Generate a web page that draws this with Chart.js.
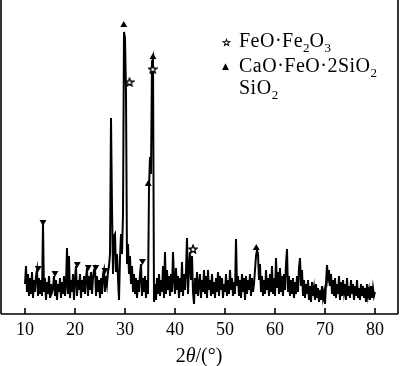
<!DOCTYPE html>
<html>
<head>
<meta charset="utf-8">
<script src="https://cdn.jsdelivr.net/npm/chart.js@4.4.1/dist/chart.umd.min.js"></script>
<style>
  html, body { margin: 0; padding: 0; background: #fff; }
  #wrap { position: relative; width: 400px; height: 366px; font-family: 'Liberation Serif', 'Times New Roman', serif; color: #000; }
  canvas { display: block; }
  .lg { position: absolute; left: 239px; font-size: 20px; line-height: 20px; letter-spacing: 0.5px; white-space: nowrap; }
  .sym { position: absolute; font-family: 'DejaVu Sans', sans-serif; line-height: 10px; }
  sub { font-size: 13px; vertical-align: -5px; line-height: 0; letter-spacing: 0; }
  .xt { position: absolute; left: 0; width: 398px; top: 345px; text-align: center; font-size: 20px; line-height: 20px; }
</style>
</head>
<body>
<div id="wrap">
  <canvas id="xrd" width="400" height="366"></canvas>
  <div class="sym" style="left:222px;top:38px;font-size:10px;-webkit-text-stroke:0.6px #000;">☆</div>
  <div class="lg" style="top:30px;">FeO·Fe<sub>2</sub>O<sub>3</sub></div>
  <div class="sym" style="left:222px;top:61px;font-size:9px;">▲</div>
  <div class="lg" style="top:55px;">CaO·FeO·2SiO<sub>2</sub></div>
  <div class="lg" style="top:77px;">SiO<sub>2</sub></div>
  <div class="xt">2<i>θ</i>/(°)</div>
</div>
<script>
// 2θ axis: 10° to 80°, 0.2° step
const startAngle = 10;
const stepAngle = 0.2;

// intensity (arbitrary units), five readings per degree
const intensity = [
  30, 48, 22, 40, 18,   // 10
  36, 20, 42, 16, 34,
  22, 38, 44, 18, 36,
  20, 34, 18, 90, 22,
  36, 14, 32, 20, 38,
  16, 30, 22, 26, 38,   // 15
  18, 34, 14, 30, 22,
  36, 16, 32, 20, 38,
  18, 30, 66, 20, 58,
  16, 34, 22, 40, 14,
  36, 48, 18, 34, 24,   // 20
  40, 16, 34, 22, 38,
  20, 36, 46, 18, 38,
  24, 42, 20, 36, 44,
  46, 18, 38, 22, 34,
  16, 36, 20, 40, 44,   // 25
  22, 38, 30, 42, 48,
  60, 196, 107, 40, 78,
  80, 42, 60, 36, 14,
  56, 80, 60, 100, 282,
  276, 222, 50, 70, 40, // 30
  58, 30, 48, 22, 40,
  20, 36, 16, 34, 22,
  40, 50, 18, 36, 22,
  38, 16, 34, 20, 126,
  157, 140, 252, 256, 12, // 35
  30, 14, 36, 20, 40,
  18, 34, 22, 48, 16,
  62, 20, 44, 24, 38,
  18, 40, 22, 62, 36,
  20, 46, 24, 38, 16,   // 40
  36, 22, 52, 18, 40,
  24, 44, 76, 20, 48,
  62, 34, 58, 22, 10,
  36, 20, 42, 18, 30,
  40, 16, 34, 22, 44,   // 45
  20, 38, 16, 44, 24,
  34, 18, 40, 20, 32,
  16, 36, 22, 42, 18,
  38, 24, 36, 16, 30,
  22, 40, 18, 34, 20,   // 50
  44, 24, 36, 18, 32,
  20, 75, 28, 38, 18,
  34, 16, 40, 22, 36,
  14, 38, 20, 34, 24,
  40, 18, 36, 22, 30,   // 55
  44, 58, 64, 60, 34,
  50, 22, 38, 18, 34,
  20, 44, 24, 36, 18,
  40, 22, 48, 20, 36,
  18, 56, 26, 42, 20,   // 60
  46, 22, 38, 18, 40,
  24, 50, 65, 22, 38,
  18, 34, 20, 36, 16,
  32, 20, 38, 22, 46,
  56, 28, 44, 18, 34,   // 65
  16, 30, 20, 34, 14,
  28, 12, 32, 18, 26,
  14, 30, 16, 26, 12,
  24, 14, 28, 16, 22,
  10, 30, 49, 36, 44,   // 70
  28, 40, 20, 34, 18,
  36, 16, 30, 20, 38,
  14, 32, 18, 34, 22,
  30, 14, 36, 18, 28,
  16, 34, 20, 30, 14,   // 75
  28, 18, 34, 16, 26,
  14, 30, 18, 28, 16,
  26, 12, 30, 18, 24,
  14, 28, 16, 26, 18,
  22                    // 80
];

// phase markers [2θ, height]
const magnetitePeaks = [[30.9, 232], [35.55, 245], [43.6, 65]];                   // FeO·Fe2O3
const hedenbergitePeaks = [[29.75, 289], [35.6, 257], [34.65, 130], [56.25, 66]]; // CaO·FeO·2SiO2
const quartzPeaks = [[12.65, 46], [13.6, 92], [16.0, 41], [20.45, 50], [22.65, 47], [24.15, 47], [26.0, 44], [33.5, 53]]; // SiO2

const xTicks = [10, 20, 30, 40, 50, 60, 70, 80];

const pattern = intensity.map((v, i) => ({ x: startAngle + i * stepAngle, y: v }));
const toPts = arr => arr.map(p => ({ x: p[0], y: p[1] }));

// outlined five-point star for the FeO·Fe2O3 marks
function makeStar(size) {
  const c = document.createElement('canvas');
  c.width = size; c.height = size;
  const g = c.getContext('2d');
  const cx = size / 2, cy = size / 2 + 0.5, R = size / 2 - 0.8, r = R * 0.45;
  g.beginPath();
  for (let k = 0; k < 10; k++) {
    const rad = k % 2 === 0 ? R : r;
    const ang = -Math.PI / 2 + k * Math.PI / 5;
    const px = cx + rad * Math.cos(ang), py = cy + rad * Math.sin(ang);
    if (k === 0) g.moveTo(px, py); else g.lineTo(px, py);
  }
  g.closePath();
  g.fillStyle = '#fff';
  g.fill();
  g.strokeStyle = '#000';
  g.lineWidth = 1.4;
  g.stroke();
  return c;
}
const starImg = makeStar(10);

const serif = "'Liberation Serif', 'Times New Roman', serif";

// frame lines and inward tick marks
const framePlugin = {
  id: 'frame',
  afterDraw(chart) {
    const { ctx, chartArea: a, scales: { x } } = chart;
    ctx.save();
    ctx.strokeStyle = '#000';
    ctx.lineWidth = 1.6;
    ctx.beginPath();
    ctx.moveTo(a.left, 0); ctx.lineTo(a.left, a.bottom);
    ctx.moveTo(a.right, 0); ctx.lineTo(a.right, a.bottom);
    ctx.moveTo(a.left, a.bottom); ctx.lineTo(a.right, a.bottom);
    xTicks.forEach(t => {
      const px = x.getPixelForValue(t);
      ctx.moveTo(px, a.bottom);
      ctx.lineTo(px, a.bottom - 6);
    });
    ctx.stroke();
    ctx.restore();
  }
};

new Chart(document.getElementById('xrd'), {
  type: 'line',
  data: {
    datasets: [
      {
        data: pattern,
        borderColor: '#000',
        borderWidth: 2,
        pointRadius: 0,
        tension: 0,
        order: 2
      },
      {
        type: 'scatter',
        data: toPts(hedenbergitePeaks),
        pointStyle: 'triangle',
        pointRadius: 4,
        backgroundColor: '#000',
        borderColor: '#000',
        borderWidth: 0,
        order: 1
      },
      {
        type: 'scatter',
        data: toPts(quartzPeaks),
        pointStyle: 'triangle',
        rotation: 180,
        pointRadius: 4,
        backgroundColor: '#000',
        borderColor: '#000',
        borderWidth: 0,
        order: 1
      },
      {
        type: 'scatter',
        data: toPts(magnetitePeaks),
        pointStyle: starImg,
        order: 1
      }
    ]
  },
  options: {
    responsive: false,
    animation: false,
    layout: { autoPadding: false, padding: { left: 1, right: 2, top: 0, bottom: 0 } },
    plugins: { legend: { display: false }, tooltip: { enabled: false } },
    scales: {
      x: {
        type: 'linear',
        min: 5.2,
        max: 84.6,
        afterBuildTicks: s => { s.ticks = xTicks.map(v => ({ value: v })); },
        afterFit: s => { s.paddingLeft = 0; s.paddingRight = 0; s.height = 52; },
        ticks: { color: '#000', font: { family: serif, size: 18 }, padding: 5, maxRotation: 0, autoSkip: false },
        grid: { display: false, drawTicks: false },
        border: { display: false }
      },
      y: { display: false, min: 0, max: 314 }
    }
  },
  plugins: [framePlugin]
});
</script>
</body>
</html>
